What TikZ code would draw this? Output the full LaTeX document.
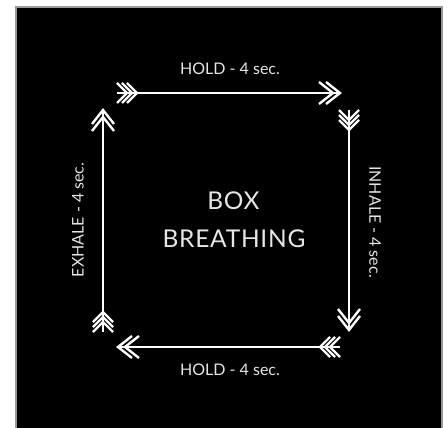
\documentclass[tikz,border=0pt]{standalone}
\usepackage{fontspec}
\setmainfont{Lato}
\definecolor{txt}{HTML}{E6E6E6}
\definecolor{edge}{HTML}{9A9A9A}
\begin{document}
\begin{tikzpicture}[x=1pt,y=1pt,
  shaft/.style={draw=white,line width=2pt},
  chev/.style={draw=white,line width=2.4pt,line cap=butt,line join=miter},
  lbl/.style={text=txt,inner sep=0pt,font=\fontsize{16}{18}\selectfont},
  big/.style={text=txt,inner sep=0pt,font=\fontsize{24.5}{28}\selectfont\addfontfeature{LetterSpace=3}},
  arrowhead/.pic={
    \draw[chev] (-14,11) -- (0,0) -- (-14,-11);
    \draw[chev] (-21,11) -- (-7,0) -- (-21,-11);
  },
  fletching/.pic={
    \foreach \o in {0,5,10}{
      \draw[chev,line width=2.3pt] (\o,10) -- (\o+10,0) -- (\o,-10);
    }
  }]
\useasboundingbox (0,0) rectangle (448,-428);
\fill[white] (0,0) rectangle (448,-428);
\draw[edge,line width=1.2pt,fill=black] (16,-7) rectangle (442,-432);

% arrow end points
\coordinate (ta) at (117,-93);  \coordinate (tb) at (340,-93);
\coordinate (ra) at (349,-110); \coordinate (rb) at (349,-330);
\coordinate (ba) at (340,-347); \coordinate (bb) at (118,-347);
\coordinate (la) at (103,-332); \coordinate (lb) at (103,-110);

\draw[shaft] (ta) -- (tb);
\draw[shaft] (ra) -- (rb);
\draw[shaft] (ba) -- (bb);
\draw[shaft] (la) -- (lb);

\pic at (tb) {arrowhead};
\pic[rotate=-90] at (rb) {arrowhead};
\pic[rotate=180] at (bb) {arrowhead};
\pic[rotate=90] at (lb) {arrowhead};

\pic at (ta) {fletching};
\pic[rotate=-90] at (ra) {fletching};
\pic[rotate=180] at (ba) {fletching};
\pic[rotate=90] at (la) {fletching};

\node[lbl] (top) at (230,-69) {HOLD - 4 sec.};
\node[lbl] (bot) at (230,-370) {HOLD - 4 sec.};
\node[lbl,rotate=-90] (rgt) at (375,-222) {INHALE - 4 sec.};
\node[lbl,rotate=90] (lft) at (78,-220) {EXHALE - 4 sec.};

\node[big] (box) at (233.5,-200.5) {BOX};
\node[big] (breath) at (234,-239) {BREATHING};
\end{tikzpicture}
\end{document}
